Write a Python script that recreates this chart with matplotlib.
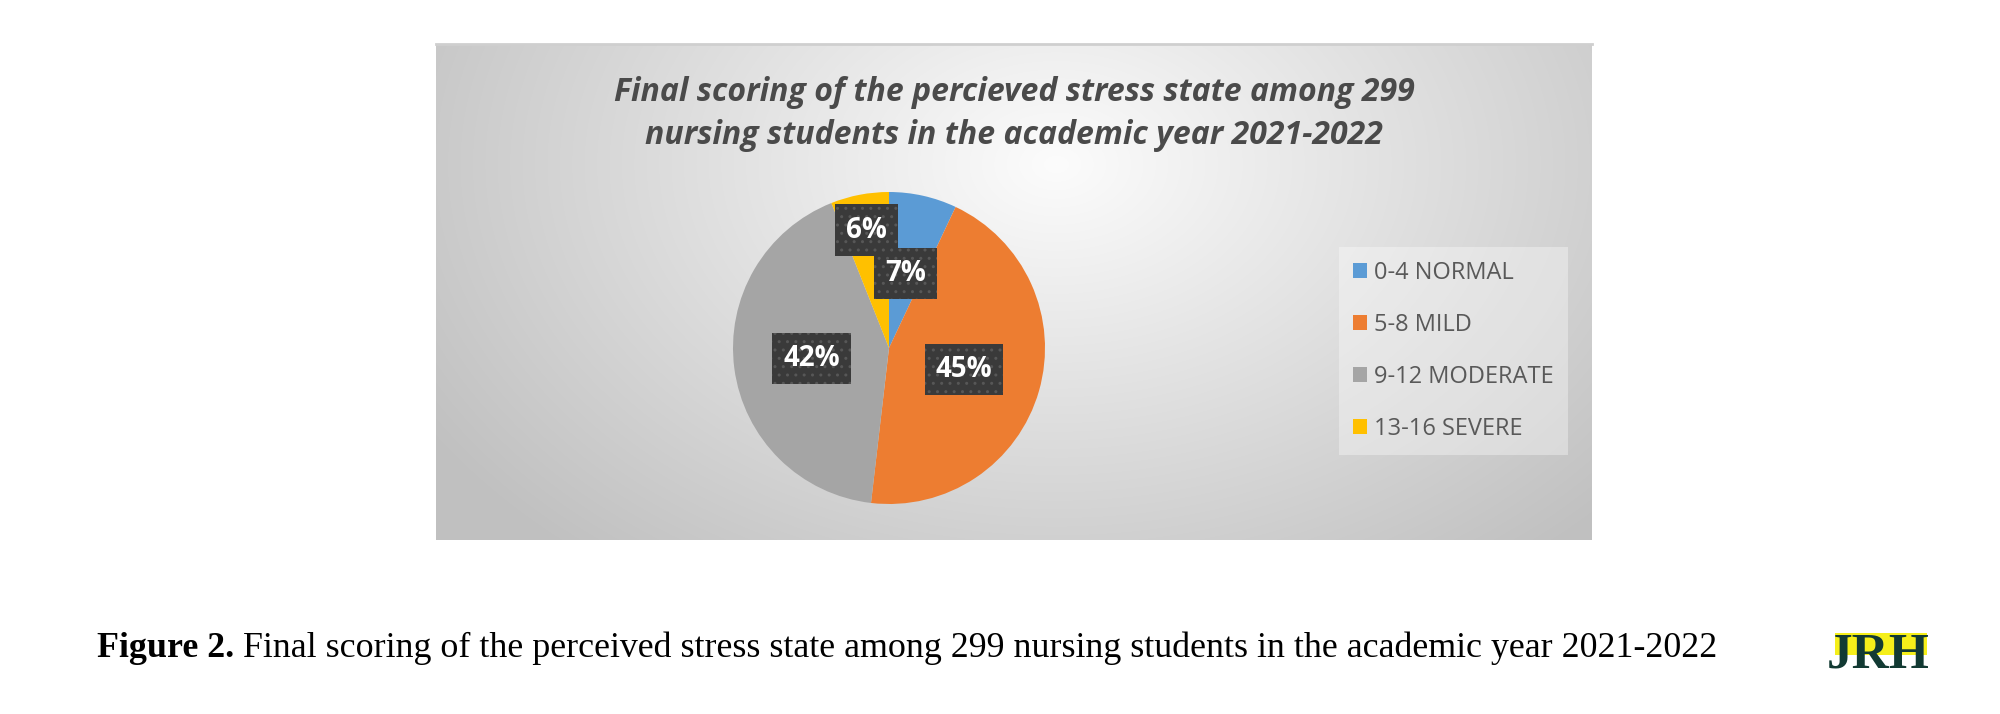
import numpy as np
import matplotlib
matplotlib.use("Agg")
import matplotlib.pyplot as plt
from matplotlib.patches import Rectangle

# data (shares of 299 students)
categories = ["0-4 NORMAL", "5-8 MILD", "9-12 MODERATE", "13-16 SEVERE"]
counts = [21, 134, 126, 18]
colors = ["#5b9bd5", "#ed7d31", "#a5a5a5", "#ffc000"]
pct_labels = ["7%", "45%", "42%", "6%"]

title_lines = ["Final scoring of the percieved stress state among 299",
               "nursing students in the academic year 2021-2022"]
caption_bold = "Figure 2."
caption_rest = " Final scoring of the perceived stress state among 299 nursing students in the academic year 2021-2022"

W, H = 2000, 714
fig = plt.figure(figsize=(W / 100, H / 100), dpi=100)
fig.patch.set_facecolor("white")

# chart area with the grey radial gradient (pixel box of the Excel chart)
bx0, by0, bx1, by1 = 436, 44, 1592, 540
bg = fig.add_axes([bx0 / W, 1 - by1 / H, (bx1 - bx0) / W, (by1 - by0) / H])
bw, bh = bx1 - bx0, by1 - by0
yy, xx = np.mgrid[0:bh, 0:bw]
d = np.sqrt(((xx - 620) / 720.0) ** 2 + ((yy - 120) / 500.0) ** 2)
v = np.clip(252 - 58 * d, 192, 255) / 255.0
bg.imshow(np.dstack([v, v, v]), aspect="auto", interpolation="bilinear")
bg.set_xticks([])
bg.set_yticks([])
for s in bg.spines.values():
    s.set_visible(False)
bg.spines["top"].set_visible(True)
bg.spines["top"].set_color("#cfcfcf")
bg.spines["top"].set_linewidth(2)

# overlay axes in pixel units (y measured from the bottom)
ax = fig.add_axes([0, 0, 1, 1])
ax.patch.set_alpha(0)

cx, cy, R = 889, H - 348, 156
wedges, _ = ax.pie(counts, colors=colors, startangle=90, counterclock=False,
                   center=(cx, cy), radius=R, frame=True,
                   wedgeprops=dict(linewidth=0))
ax.set_xlim(0, W)
ax.set_ylim(0, H)
ax.set_aspect("equal")
ax.axis("off")

# data labels: dark dotted boxes, white bold text
label_r = [0.49, 0.50, 0.50, 0.77]
for w, lab, lr in zip(wedges, pct_labels, label_r):
    ang = np.deg2rad((w.theta1 + w.theta2) / 2)
    x = cx + lr * R * np.cos(ang)
    y = cy + lr * R * np.sin(ang)
    ax.text(x, y, lab, ha="center", va="center", color="white",
            fontsize=20, fontweight="bold", family="Open Sans",
            bbox=dict(boxstyle="square,pad=0.4", facecolor="#3a3a3a",
                      edgecolor="#575757", linewidth=0, hatch=".."),
            zorder=5)

# title, two centred lines
for yb, line in zip([101, 144], title_lines):
    ax.text(1014, H - yb, line, ha="center", va="baseline", fontsize=23,
            fontweight="bold", style="italic", family="Open Sans",
            color="#4a4a4a")

# legend
handles = [Rectangle((0, 0), 1, 1, facecolor=c, edgecolor="none") for c in colors]
leg = ax.legend(handles, categories, loc="upper left",
                bbox_to_anchor=(1339 / W, 1 - 247 / H), bbox_transform=fig.transFigure,
                frameon=True, fancybox=False, prop=dict(family="Open Sans", size=17),
                handlelength=0.6, handleheight=0.6, handletextpad=0.3,
                labelspacing=1.18, borderpad=0.6, borderaxespad=0)
leg.get_frame().set_facecolor("white")
leg.get_frame().set_alpha(0.35)
leg.get_frame().set_edgecolor("none")
for t in leg.get_texts():
    t.set_color("#595959")

# caption below the chart
t1 = fig.text(97 / W, 1 - 657 / H, caption_bold, ha="left", va="baseline",
              fontsize=25.85, fontweight="bold", family="Liberation Serif", color="black")
fig.canvas.draw()
bb = t1.get_window_extent()
fig.text(bb.x1 / W, 1 - 657 / H, caption_rest, ha="left", va="baseline",
         fontsize=25.85, family="Liberation Serif", color="black")

# JRH logo
ax.add_patch(Rectangle((1835, H - 655), 92, 22, facecolor="#f5ef1a", edgecolor="none", zorder=3))
ax.text(1878, H - 667, "JRH", ha="center", va="baseline", fontsize=37,
        fontweight="bold", family="Liberation Serif", color="#123a33", zorder=4)

fig.savefig("out.png", dpi=100)
